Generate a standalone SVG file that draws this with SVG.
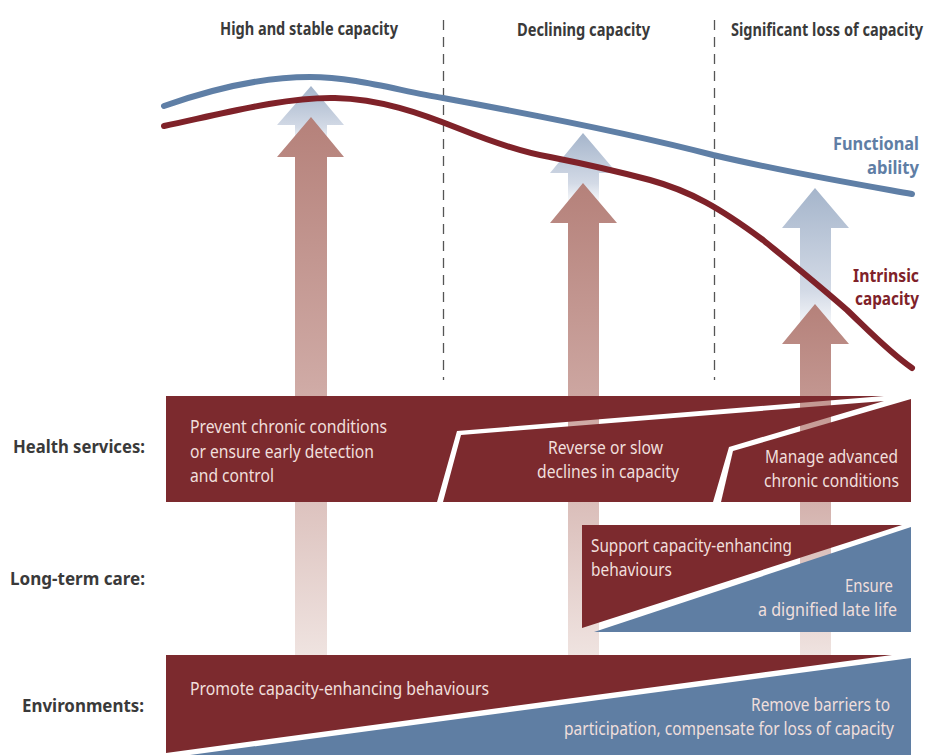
<svg xmlns="http://www.w3.org/2000/svg" width="926" height="755" viewBox="0 0 926 755">
<style>
text{font-family:"Noto Sans","Liberation Sans",sans-serif;font-size:18px}
.h{font-weight:700;fill:#3a3a3a}
.f{font-weight:700;fill:#5f7ea5;text-anchor:end;font-size:16.500px}
.i{font-weight:700;fill:#7f2229;text-anchor:end;font-size:16.500px}
.e{text-anchor:end}
.s{font-size:14.600px}
.p{font-size:15.500px}
.w{fill:#f0dfdc}
.div{fill:none;stroke:#555;stroke-width:1.3;stroke-dasharray:10 7}
.curve{fill:none;stroke-width:6;stroke-linecap:round;stroke-linejoin:round}
.r{fill:#7c2a2e}.b{fill:#5f7ea3}
</style>
<defs>
<linearGradient id="rg" x1="0" y1="0" x2="0" y2="1"><stop offset="0" stop-color="#b5817a"/><stop offset=".5" stop-color="#cfaaa5"/><stop offset="1" stop-color="#efe3e0"/></linearGradient>
<linearGradient id="bg" x1="0" y1="0" x2="0" y2="1"><stop offset="0" stop-color="#a5b5cb"/><stop offset=".7" stop-color="#d3dae6"/><stop offset="1" stop-color="#fff"/></linearGradient>
</defs>
<g id="dividers"><path class="div" d="M443.500 20V380"/><path class="div" d="M714.500 20V380"/></g>
<g id="arrows">
<path fill="url(#bg)" d="M311 86L344 125H327V145H295V125H277Z"/>
<path fill="url(#bg)" d="M583 133L617 173H599V205H568V173H550Z"/>
<path fill="url(#bg)" d="M815 188L849 228H831V335H800V228H782Z"/>
<path fill="url(#rg)" d="M311 117L344 157H327V655H295V157H277Z"/>
<path fill="url(#rg)" d="M583 183L617 223H599V655H568V223H550Z"/>
<path fill="url(#rg)" d="M815 304L849 344H831V655H800V344H782Z"/>
</g>
<g id="curves">
<path class="curve" stroke="#5f7fa6" d="M164 106C215 88 265 77 310 77C355 77 400 91 443 98C530 114 640 136 713 155C790 173 850 183 912 194"/>
<path class="curve" stroke="#7f2229" d="M164 126C225 113 285 97 335 98C380 99 420 113 460 129C490 141 520 152 550 157C585 164 620 172 650 180C690 191 720 208 763 240C790 262 815 282 847 310C870 332 890 353 912 368"/>
</g>
<g id="headers">
<text class="h" x="220" y="35" textLength="178" lengthAdjust="spacingAndGlyphs">High and stable capacity</text>
<text class="h" x="517" y="36" textLength="133" lengthAdjust="spacingAndGlyphs">Declining capacity</text>
<text class="h e s" transform="translate(923 36) scale(1 1.230)" textLength="192" lengthAdjust="spacingAndGlyphs">Significant loss of capacity</text>
</g>
<g id="curve-labels">
<text class="f" transform="translate(919 150) scale(1 1.090)" textLength="86" lengthAdjust="spacingAndGlyphs">Functional</text>
<text class="f" transform="translate(919 174) scale(1 1.090)" textLength="52" lengthAdjust="spacingAndGlyphs">ability</text>
<text class="i" transform="translate(919 282) scale(1 1.090)" textLength="66" lengthAdjust="spacingAndGlyphs">Intrinsic</text>
<text class="i" transform="translate(919 305) scale(1 1.090)" textLength="64" lengthAdjust="spacingAndGlyphs">capacity</text>
</g>
<g id="row-labels">
<text class="h" x="13" y="453" textLength="132" lengthAdjust="spacingAndGlyphs">Health services:</text>
<text class="h" x="10" y="585" textLength="135" lengthAdjust="spacingAndGlyphs">Long-term care:</text>
<text class="h" x="22" y="712" textLength="122" lengthAdjust="spacingAndGlyphs">Environments:</text>
</g>
<g id="health-services">
<polygon class="r" points="166,396 884,396 457,431 437,502 166,502"/>
<polygon class="r" points="461,435 884,401 729,447 713,502 443,502"/>
<polygon class="r" points="733,451 911,399 911,502 721,502"/>
<text class="w" x="190" y="433" textLength="197" lengthAdjust="spacingAndGlyphs">Prevent chronic conditions</text>
<text class="w" x="190" y="458" textLength="184" lengthAdjust="spacingAndGlyphs">or ensure early detection</text>
<text class="w" x="190" y="482" textLength="84" lengthAdjust="spacingAndGlyphs">and control</text>
<text class="w" x="548" y="454" textLength="115" lengthAdjust="spacingAndGlyphs">Reverse or slow</text>
<text class="w" x="537" y="478" textLength="142" lengthAdjust="spacingAndGlyphs">declines in capacity</text>
<text class="w e" x="898" y="463" textLength="133" lengthAdjust="spacingAndGlyphs">Manage advanced</text>
<text class="w e" x="899" y="487" textLength="135" lengthAdjust="spacingAndGlyphs">chronic conditions</text>
</g>
<g id="long-term-care">
<polygon class="r" points="582,525 902,525 582,628"/>
<polygon class="b" points="911,527 911,632 594,632"/>
<text class="w" x="591" y="552" textLength="201" lengthAdjust="spacingAndGlyphs">Support capacity-enhancing</text>
<text class="w" x="591" y="576" textLength="81" lengthAdjust="spacingAndGlyphs">behaviours</text>
<text class="w e" x="893" y="592" textLength="48" lengthAdjust="spacingAndGlyphs">Ensure</text>
<text class="w e" x="897" y="616" textLength="139" lengthAdjust="spacingAndGlyphs">a dignified late life</text>
</g>
<g id="environments">
<polygon class="r" points="166,655 892,655 166,753"/>
<polygon class="b" points="911,658 911,755 190,755"/>
<text class="w" x="190" y="695" textLength="299" lengthAdjust="spacingAndGlyphs">Promote capacity-enhancing behaviours</text>
<text class="w e" x="890" y="711" textLength="139" lengthAdjust="spacingAndGlyphs">Remove barriers to</text>
<text class="w e p" transform="translate(894 735) scale(1 1.160)" textLength="330" lengthAdjust="spacingAndGlyphs">participation, compensate for loss of capacity</text>
</g>
</svg>
